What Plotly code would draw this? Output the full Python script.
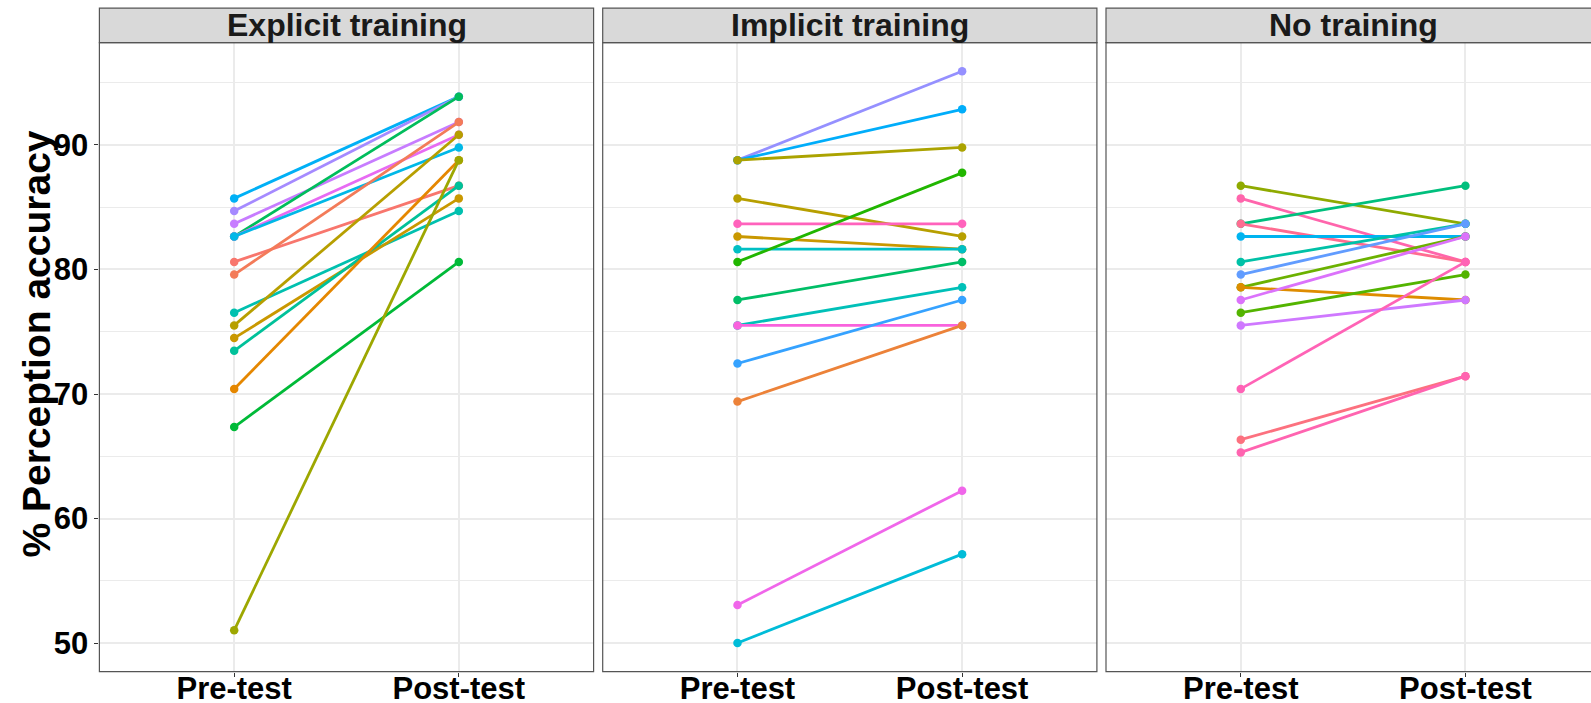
import plotly.graph_objects as go

W, H = 1591, 703

conditions = ["Explicit training", "Implicit training", "No training"]
phases = ["Pre-test", "Post-test"]

explicit_pre = [85.71, 84.69, 83.67, 82.65, 82.65, 82.65, 80.61, 79.59, 76.53, 75.51, 74.49, 73.47, 70.41, 67.35, 51.02]
explicit_post = [93.88, 93.88, 91.84, 93.88, 90.82, 89.80, 86.73, 91.84, 84.69, 90.82, 85.71, 86.73, 88.78, 80.61, 88.78]
explicit_colors = ["#00B0F6", "#A58AFF", "#C77CFF", "#00BD5C", "#E76BF3", "#00B8E7", "#F8766D",
                   "#F37B59", "#00C0AF", "#B79F00", "#C99800", "#00C19A", "#E58700", "#00BA38", "#9DA700"]

implicit_pre = [88.78, 88.78, 88.78, 85.71, 83.67, 82.65, 81.63, 80.61, 77.55, 75.51, 75.51, 72.45, 69.39, 53.06, 50.00]
implicit_post = [95.92, 92.86, 89.80, 82.65, 83.67, 81.63, 81.63, 87.76, 80.61, 78.57, 75.51, 77.55, 75.51, 62.24, 57.14]
implicit_colors = ["#9590FF", "#00ADFA", "#ABA300", "#B79F00", "#FF62BC", "#C99800", "#00BFC4",
                   "#21B600", "#00BE67", "#00C0B8", "#F962DD", "#35A2FF", "#EC8239", "#F066EA", "#00BCD8"]

none_pre = [86.73, 85.71, 83.67, 83.67, 82.65, 80.61, 79.59, 78.57, 78.57, 77.55, 76.53, 75.51, 70.41, 66.33, 65.31]
none_post = [83.67, 80.61, 86.73, 80.61, 82.65, 83.67, 83.67, 82.65, 77.55, 82.65, 79.59, 77.55, 80.61, 71.43, 71.43]
none_colors = ["#8FAA00", "#FF65AC", "#00BF7D", "#FF6C91", "#00B4F0", "#00C1A7", "#619CFF",
               "#6BB100", "#DE8C00", "#DB72FB", "#53B400", "#CF78FF", "#FF63B6", "#FC717F", "#FF64B0"]

y_ticks = [50, 60, 70, 80, 90]
y_minor = [55, 65, 75, 85, 95]

panels = [
    (explicit_pre, explicit_post, explicit_colors),
    (implicit_pre, implicit_post, implicit_colors),
    (none_pre, none_post, none_colors),
]

# geometry (pixels)
panel_left = [99.4, 602.7, 1106.0]
panel_w = 494.2
unit = panel_w / 2.2
top_px, bot_px = 42.6, 671.7
strip_top_px = 8.1

def px(x):
    return x / W

def py(y):
    return 1 - y / H

fig = go.Figure()

for i, (pre, post, cols) in enumerate(panels):
    xa = "x" if i == 0 else f"x{i+1}"
    ya = "y" if i == 0 else f"y{i+1}"
    for a, b, c in zip(pre, post, cols):
        fig.add_trace(go.Scatter(
            x=[1, 2], y=[a, b], mode="lines+markers",
            line=dict(color=c, width=2.8),
            marker=dict(color=c, size=8.5),
            xaxis=xa, yaxis=ya, showlegend=False, hoverinfo="skip"))

tickfont = dict(family="Liberation Sans", size=31, color="#000000", weight="bold")
layout = dict(
    width=W, height=H, margin=dict(l=0, r=0, t=0, b=0, autoexpand=False),
    paper_bgcolor="white", plot_bgcolor="white", showlegend=False,
)

shapes = []
annotations = []
for i in range(3):
    left = panel_left[i]
    right = left + panel_w
    dom_r = min(px(right), 1.0)
    rng_hi = 0.4 + (min(right, W) - left) / unit
    xkey = "xaxis" if i == 0 else f"xaxis{i+1}"
    ykey = "yaxis" if i == 0 else f"yaxis{i+1}"
    layout[xkey] = dict(
        domain=[px(left), dom_r], range=[0.4, rng_hi],
        tickvals=[1, 2], ticktext=phases, tickfont=tickfont,
        ticklabelstandoff=-15,
        showgrid=True, gridcolor="#EBEBEB", gridwidth=1.5,
        zeroline=False, showline=False, automargin=False,
        ticks="outside", ticklen=4, tickcolor="#333333", tickwidth=1,
        anchor="y" if i == 0 else f"y{i+1}", fixedrange=True,
    )
    layout[ykey] = dict(
        domain=[py(bot_px), py(top_px)], range=[47.70, 98.22],
        tickvals=y_ticks, tickfont=tickfont,
        showticklabels=(i == 0), automargin=False,
        ticks="outside" if i == 0 else "", ticklen=4, tickcolor="#333333",
        showgrid=True, gridcolor="#EBEBEB", gridwidth=1.5,
        minor=dict(tickvals=y_minor, showgrid=True, gridcolor="#EBEBEB", gridwidth=0.8),
        zeroline=False, showline=False,
        anchor="x" if i == 0 else f"x{i+1}", fixedrange=True,
    )
    # panel border
    shapes.append(dict(type="rect", xref="paper", yref="paper",
                       x0=px(left), x1=px(right), y0=py(bot_px), y1=py(top_px),
                       line=dict(color="#555555", width=1.2), fillcolor="rgba(0,0,0,0)", layer="above"))
    # strip
    shapes.append(dict(type="rect", xref="paper", yref="paper",
                       x0=px(left), x1=px(right), y0=py(top_px), y1=py(strip_top_px),
                       line=dict(color="#555555", width=1.2), fillcolor="#D9D9D9", layer="above"))
    annotations.append(dict(text=conditions[i], xref="paper", yref="paper",
                            x=px((left + right) / 2), y=py((top_px + strip_top_px) / 2),
                            xanchor="center", yanchor="middle", showarrow=False,
                            font=dict(family="Liberation Sans", size=32, color="#1A1A1A", weight="bold")))

annotations.append(dict(text="% Perception accuracy", xref="paper", yref="paper",
                        x=px(35.5), y=py(344), xanchor="center", yanchor="middle",
                        textangle=-90, showarrow=False,
                        font=dict(family="Liberation Sans", size=39, color="#000000", weight="bold")))

layout["shapes"] = shapes
layout["annotations"] = annotations
fig.update_layout(**layout)

fig.write_html("out.html")
